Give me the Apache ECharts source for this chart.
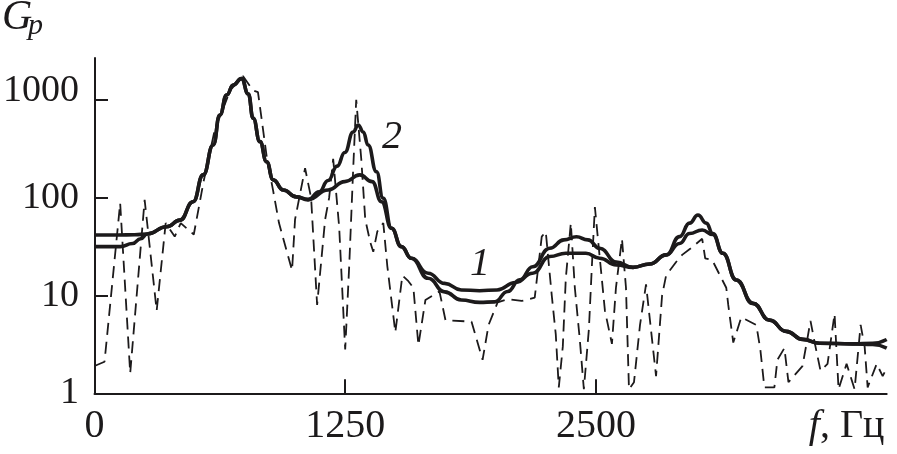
<!DOCTYPE html>
<html><head><meta charset="utf-8">
<script src="https://cdn.jsdelivr.net/npm/echarts@6/dist/echarts.min.js"></script>
<style>html,body{margin:0;padding:0;background:#fff}#c{width:897px;height:454px}</style>
</head><body><div id="c"></div>
<script>
// ---- data ----
const curve1Freq = [0, 120, 200, 262, 360, 426, 492, 542, 592, 625, 659, 692, 733, 767, 791, 825, 858, 891, 941, 1007, 1065, 1165, 1248, 1323, 1384, 1431, 1481, 1530, 1580, 1663, 1746, 1829, 1920, 2007, 2100, 2185, 2270, 2350, 2450, 2519, 2602, 2685, 2768, 2851, 2917, 2967, 3030, 3083, 3133, 3200, 3283, 3366, 3449, 3532, 3615, 3781, 3880, 3950];
const curve1Gain = [41.6, 41.6, 41.8, 42.5, 50.5, 59, 91, 171, 346, 701, 1122, 1420, 1650, 1150, 649, 374, 233, 152, 120, 102, 96, 120, 146, 171, 146, 91, 48.7, 31.6, 24, 16.9, 13.3, 11.4, 11.2, 11.4, 13.6, 16.9, 25, 27, 27, 24, 20.5, 19.4, 21, 26, 34, 43, 46.7, 42, 27, 14.4, 8.3, 5.6, 4.3, 3.56, 3.25, 3.2, 3.25, 3.55];

const curve2Freq = [0, 128, 190, 230, 262, 360, 426, 492, 542, 592, 625, 659, 692, 733, 767, 791, 825, 858, 891, 941, 1007, 1065, 1120, 1165, 1210, 1248, 1290, 1315, 1340, 1364, 1406, 1439, 1481, 1530, 1580, 1663, 1746, 1829, 1920, 1995, 2060, 2120, 2185, 2270, 2340, 2403, 2460, 2519, 2602, 2685, 2768, 2851, 2917, 2967, 3009, 3050, 3083, 3133, 3200, 3283, 3366, 3449, 3532, 3615, 3781, 3880, 3950];
const curve2Gain = [31.6, 31.6, 34, 38, 42.5, 50.5, 59, 91, 171, 346, 701, 1122, 1420, 1650, 1150, 649, 374, 233, 152, 120, 102, 95, 115, 150, 210, 290, 470, 554, 470, 346, 184, 99, 48.7, 31.6, 24, 15, 10.9, 9.0, 8.5, 8.6, 11, 14.5, 19.7, 30.4, 37, 39.9, 37, 30.4, 22, 19.4, 21, 26, 40, 55, 66.5, 55, 43, 27, 14.4, 8.3, 5.6, 4.3, 3.56, 3.25, 3.2, 3.15, 2.9];

const noiseFreq = [0, 50, 128, 178, 250, 310, 355, 400, 430, 495, 545, 600, 640, 676, 740, 790, 815, 835, 860, 890, 920, 985, 1000, 1050, 1080, 1110, 1150, 1170, 1190, 1220, 1250, 1270, 1290, 1305, 1330, 1350, 1375, 1390, 1410, 1440, 1460, 1500, 1535, 1565, 1590, 1615, 1650, 1720, 1750, 1880, 1935, 1965, 2010, 2060, 2130, 2195, 2230, 2250, 2280, 2300, 2315, 2335, 2350, 2375, 2395, 2420, 2440, 2465, 2480, 2495, 2515, 2545, 2580, 2600, 2630, 2650, 2665, 2690, 2720, 2750, 2775, 2800, 2830, 2850, 2900, 2930, 2970, 3030, 3045, 3080, 3150, 3160, 3185, 3225, 3300, 3320, 3340, 3390, 3405, 3440, 3460, 3530, 3550, 3570, 3595, 3620, 3655, 3690, 3710, 3750, 3790, 3820, 3840, 3855, 3900, 3930, 3950];
const noiseGain = [1.9, 2.1, 88, 1.6, 95, 7, 55, 40, 55, 42, 150, 500, 800, 1250, 1750, 1250, 1200, 600, 250, 120, 55, 18, 60, 200, 100, 8, 60, 100, 250, 50, 2.8, 20, 200, 1000, 250, 60, 35, 28, 45, 55, 20, 4.2, 16, 14, 12, 3.1, 9, 11, 5.6, 5.4, 2.2, 5, 8.5, 9.2, 8.8, 9.5, 40, 45, 10, 4, 1.15, 3, 15, 55, 12, 3.5, 1.1, 4.5, 20, 80, 30, 7, 3.2, 12, 38, 12, 1.1, 1.3, 5, 13, 4.4, 1.5, 10, 16, 22, 26, 30, 38, 24, 23, 12, 8, 3.3, 6, 5, 2.8, 1.15, 1.15, 2.2, 2.9, 1.3, 1.9, 3.2, 5.5, 3, 1.7, 2, 6.5, 1.1, 2, 1.1, 5, 3, 1.15, 2, 1.5, 1.8];

const xTickValues = [1250, 2500];
const xLabelValues = [0, 1250, 2500, 3750];
const xUnitLabelValue = 3750;

// ---- chart ----
const ink = '#1c1a1b';
const serif = '"Liberation Serif", "DejaVu Serif", serif';
const pairs = (xs, ys) => xs.map((x, i) => [x, ys[i]]);

const chart = echarts.init(document.getElementById('c'), null, {renderer: 'canvas'});
chart.setOption({
  animation: false,
  backgroundColor: '#ffffff',
  grid: [
    {left: 94.5, right: 10.3, top: 58, bottom: 60.7},
    {left: 94.5, right: 10.3, top: 100, bottom: 60.7}
  ],
  xAxis: [
    {
      type: 'value', gridIndex: 0, min: 0, max: 3950,
      axisLine: {show: true, onZero: false, lineStyle: {color: ink, width: 2}},
      axisTick: {show: true, inside: true, length: 14, customValues: xTickValues, lineStyle: {color: ink, width: 2}},
      axisLabel: {
        customValues: xLabelValues, margin: 13, color: ink, fontFamily: serif, fontSize: 40,
        formatter: v => v === xUnitLabelValue ? '{i|f}{n|, Гц}' : String(v),
        rich: {
          i: {fontFamily: serif, fontSize: 40, fontStyle: 'italic', color: ink},
          n: {fontFamily: serif, fontSize: 40, color: ink}
        }
      },
      splitLine: {show: false}
    },
    {type: 'value', gridIndex: 1, min: 0, max: 3950, show: false}
  ],
  yAxis: [
    {
      type: 'log', gridIndex: 0, min: 1, max: 2680, logBase: 10,
      axisLine: {show: true, onZero: false, lineStyle: {color: ink, width: 2}},
      axisTick: {show: false}, axisLabel: {show: false}, splitLine: {show: false}
    },
    {
      type: 'log', gridIndex: 1, min: 1, max: 1000, logBase: 10,
      axisLine: {show: false},
      axisTick: {show: true, inside: true, length: 13, lineStyle: {color: ink, width: 2}},
      axisLabel: {
        margin: 16, color: ink, fontFamily: serif, fontSize: 38,
        formatter: v => v === 1000 ? '{up|1000}' : String(v),
        rich: {up: {fontFamily: serif, fontSize: 38, color: ink, padding: [0, 0, 18, 0]}}
      },
      splitLine: {show: false}
    }
  ],
  series: [
    {
      type: 'line', xAxisIndex: 0, yAxisIndex: 0, data: pairs(noiseFreq, noiseGain),
      symbol: 'none', silent: true, z: 1,
      lineStyle: {color: ink, width: 1.8, type: [12, 7]}
    },
    {
      type: 'line', xAxisIndex: 0, yAxisIndex: 0, data: pairs(curve1Freq, curve1Gain),
      symbol: 'none', silent: true, smooth: 0.5, smoothMonotone: 'x', z: 2,
      lineStyle: {color: ink, width: 3.6}
    },
    {
      type: 'line', xAxisIndex: 0, yAxisIndex: 0, data: pairs(curve2Freq, curve2Gain),
      symbol: 'none', silent: true, smooth: 0.5, smoothMonotone: 'x', z: 2,
      lineStyle: {color: ink, width: 3.6}
    }
  ],
  graphic: [
    {type: 'text', x: 2, y: 18, style: {text: 'G', font: 'italic 42px "Liberation Serif"', fill: ink, textAlign: 'left', textVerticalAlign: 'middle'}},
    {type: 'text', x: 28, y: 26, style: {text: 'p', font: 'italic 30px "Liberation Serif"', fill: ink, textAlign: 'left', textVerticalAlign: 'middle'}},
    {type: 'text', x: 480, y: 264, style: {text: '1', font: 'italic 40px "Liberation Serif"', fill: ink, textAlign: 'center', textVerticalAlign: 'middle'}},
    {type: 'text', x: 392, y: 137, style: {text: '2', font: 'italic 40px "Liberation Serif"', fill: ink, textAlign: 'center', textVerticalAlign: 'middle'}}
  ]
});
</script>
</body></html>
